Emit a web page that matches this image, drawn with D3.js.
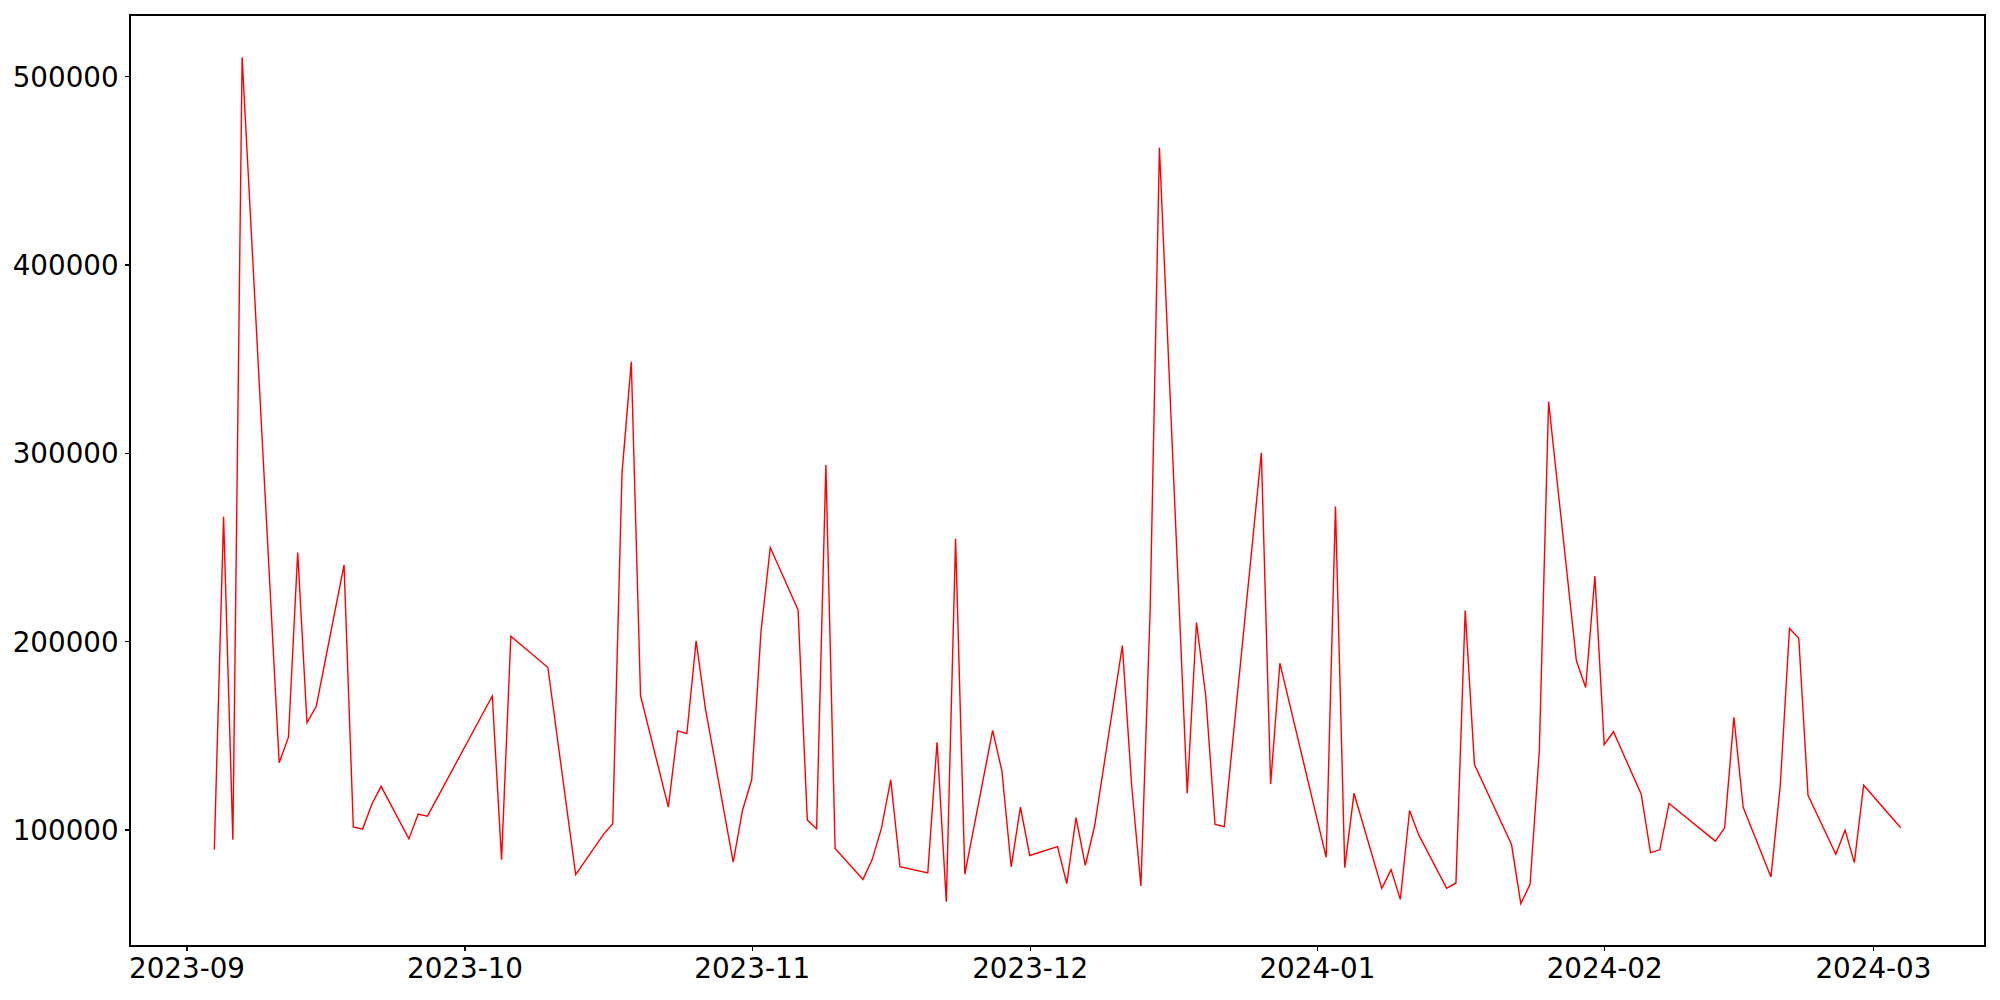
<!DOCTYPE html>
<html>
<head>
<meta charset="utf-8">
<script src="https://cdn.jsdelivr.net/npm/d3@7"></script>
<style>
    body { margin: 0; background: #fff; }
    .tick text { font-family: "DejaVu Sans", sans-serif; font-size: 27.78px; fill: #000; }
</style>
</head>
<body>
<div id="chart"></div>
<script>
// daily values (gaps are missing days in the source)
var dates = [
    "2023-09-04", "2023-09-05", "2023-09-06", "2023-09-07", "2023-09-11", "2023-09-12", "2023-09-13", "2023-09-14", "2023-09-15",
    "2023-09-18", "2023-09-19", "2023-09-20", "2023-09-21", "2023-09-22", "2023-09-25", "2023-09-26", "2023-09-27",
    "2023-10-04", "2023-10-05", "2023-10-06", "2023-10-10", "2023-10-13", "2023-10-16", "2023-10-17", "2023-10-18", "2023-10-19",
    "2023-10-20", "2023-10-23", "2023-10-24", "2023-10-25", "2023-10-26", "2023-10-27", "2023-10-30", "2023-10-31",
    "2023-11-01", "2023-11-02", "2023-11-03", "2023-11-06", "2023-11-07", "2023-11-08", "2023-11-09", "2023-11-10",
    "2023-11-13", "2023-11-14", "2023-11-15", "2023-11-16", "2023-11-17", "2023-11-20", "2023-11-21", "2023-11-22",
    "2023-11-23", "2023-11-24", "2023-11-27", "2023-11-28", "2023-11-29", "2023-11-30", "2023-12-01",
    "2023-12-04", "2023-12-05", "2023-12-06", "2023-12-07", "2023-12-08", "2023-12-11", "2023-12-12", "2023-12-13",
    "2023-12-14", "2023-12-15", "2023-12-18", "2023-12-19", "2023-12-20", "2023-12-21", "2023-12-22",
    "2023-12-26", "2023-12-27", "2023-12-28", "2024-01-02", "2024-01-03", "2024-01-04", "2024-01-05",
    "2024-01-08", "2024-01-09", "2024-01-10", "2024-01-11", "2024-01-12", "2024-01-15", "2024-01-16", "2024-01-17",
    "2024-01-18", "2024-01-22", "2024-01-23", "2024-01-24", "2024-01-25", "2024-01-26", "2024-01-29", "2024-01-30",
    "2024-01-31", "2024-02-01", "2024-02-02", "2024-02-05", "2024-02-06", "2024-02-07", "2024-02-08",
    "2024-02-13", "2024-02-14", "2024-02-15", "2024-02-16", "2024-02-19", "2024-02-20", "2024-02-21", "2024-02-22",
    "2024-02-23", "2024-02-26", "2024-02-27", "2024-02-28", "2024-02-29", "2024-03-04"
];
var values = [
    89300, 266000, 94500, 510000, 135400, 149000, 247100, 156700, 165300,
    240500, 101300, 100200, 113400, 122900, 95000, 108200, 107100,
    170900, 84000, 202600, 186000, 76000, 97400, 103000, 289200, 348300,
    170900, 111900, 152400, 150900, 200200, 164200, 82700, 110100,
    126500, 205200, 249700, 216600, 105000, 100400, 293500, 89900,
    73500, 84000, 100700, 126300, 80200, 76900, 146300, 61600,
    254300, 76300, 152600, 131000, 80200, 111900, 86200,
    90900, 71300, 106300, 81000, 101700, 197600, 123500, 70000,
    216900, 462000, 119200, 209900, 170800, 102700, 101500,
    300000, 124100, 188300, 85200, 271500, 79700, 119200,
    68700, 78700, 62900, 110100, 97000, 68800, 71600, 216300,
    134500, 92000, 60600, 70900, 141800, 327200, 189600, 175400,
    234500, 145000, 151900, 118700, 87700, 89200, 113800,
    93800, 100900, 159500, 111800, 74800, 123200, 206700, 201500,
    118200, 86800, 99600, 82400, 123500, 100900
];
var yTicks = [100000, 200000, 300000, 400000, 500000];
var xTickFormat = "%Y-%m";

var margin = {top: 15, left: 130, right: 15, bottom: 54},
    width = 2000 - margin.left - margin.right,
    height = 1000 - margin.top - margin.bottom;

var parseDate = d3.timeParse("%Y-%m-%d");
var data = dates.map(function (d, i) {
    return {date: parseDate(d), value: values[i]};
});

// matplotlib style 5% margins on both axes
var xExt = d3.extent(data, d => d.date);
var xPad = (xExt[1] - xExt[0]) * 0.05;
var yExt = d3.extent(data, d => d.value);
var yPad = (yExt[1] - yExt[0]) * 0.05;

var x = d3.scaleTime()
    .domain([new Date(+xExt[0] - xPad), new Date(+xExt[1] + xPad)])
    .range([0, width]);

var y = d3.scaleLinear()
    .domain([yExt[0] - yPad, yExt[1] + yPad])
    .range([height, 0]);

var svg = d3.select("#chart")
    .append("svg")
    .attr("width", width + margin.left + margin.right)
    .attr("height", height + margin.top + margin.bottom)
    .append("g")
    .attr("transform", "translate(" + margin.left + "," + margin.top + ")");

var line = d3.line()
    .x(d => x(d.date))
    .y(d => y(d.value));

svg.append("path")
    .datum(data)
    .attr("fill", "none")
    .attr("stroke", "red")
    .attr("stroke-width", 1.4)
    .attr("stroke-linejoin", "miter")
    .attr("d", line);

var xAxis = svg.append("g")
    .attr("transform", "translate(0," + height + ")")
    .call(d3.axisBottom(x)
        .ticks(d3.timeMonth.every(1))
        .tickFormat(d3.timeFormat(xTickFormat))
        .tickSizeInner(4.86)
        .tickSizeOuter(0)
        .tickPadding(4.86));
xAxis.selectAll(".tick text").attr("dy", "0.8em");

var yAxis = svg.append("g")
    .call(d3.axisLeft(y)
        .tickValues(yTicks)
        .tickFormat(d3.format("d"))
        .tickSizeInner(4.86)
        .tickSizeOuter(0)
        .tickPadding(6.5));
yAxis.selectAll(".tick text").attr("dy", "0.36em");

svg.selectAll(".domain").remove();
svg.selectAll(".tick line")
    .attr("stroke", "#000")
    .attr("stroke-width", 1.11)
    .attr("shape-rendering", "crispEdges");

// axes frame
svg.append("rect")
    .attr("x", 0)
    .attr("y", 0)
    .attr("width", width)
    .attr("height", height)
    .attr("fill", "none")
    .attr("stroke", "#000")
    .attr("stroke-width", 1.11)
    .attr("shape-rendering", "crispEdges");
</script>
</body>
</html>
